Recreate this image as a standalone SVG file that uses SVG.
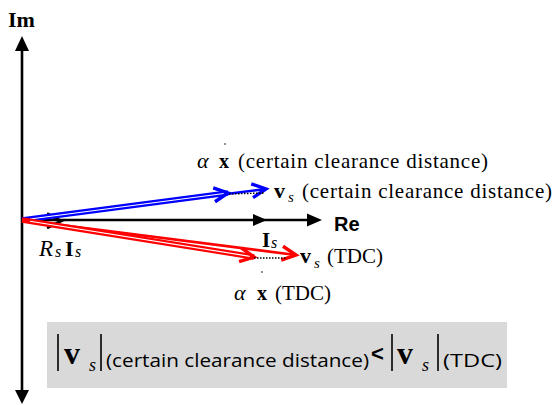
<svg xmlns="http://www.w3.org/2000/svg" width="555" height="405" viewBox="0 0 555 405">
  <style>
    text { fill: #000; }
    .serif { font-family: 'Liberation Serif', serif; }
    .sans { font-family: 'Liberation Sans', Arial, sans-serif; }
    .ui { font-family: 'Open Sans', 'Noto Sans', sans-serif; }
    .b { font-weight: bold; }
    .i { font-style: italic; }
    .axis { stroke: #000; stroke-width: 2.6; fill: none; }
    .dots { stroke: #000; stroke-width: 1.4; stroke-dasharray: 1.5 1.5; fill: none; }
    .bar { stroke: #000; stroke-width: 1.6; }
  </style>
  <defs>
    <marker id="chevBlue" markerUnits="userSpaceOnUse" markerWidth="20" markerHeight="20" refX="17" refY="10" orient="auto" overflow="visible">
      <path d="M3,3 L17,10 L3,17" fill="none" stroke="#0000ff" stroke-width="3.4" stroke-linejoin="miter"/>
    </marker>
    <marker id="chevRed" markerUnits="userSpaceOnUse" markerWidth="20" markerHeight="20" refX="17" refY="10" orient="auto" overflow="visible">
      <path d="M3,3 L17,10 L3,17" fill="none" stroke="#ff0000" stroke-width="3.4" stroke-linejoin="miter"/>
    </marker>
  </defs>

  <!-- complex-plane axes -->
  <g id="axes">
    <line class="axis" x1="22" y1="395" x2="22" y2="50"/>
    <path d="M15,51 L22,36 L29,51 Z" fill="#000"/>
    <path d="M15,390 L22,404 L29,390 Z" fill="#000"/>
    <line class="axis" x1="22" y1="220" x2="310" y2="220"/>
    <path d="M307,213.5 L322,220 L307,226.5 Z" fill="#000"/>
    <text class="serif b" x="8" y="27" font-size="22">Im</text>
    <text class="sans b" x="334" y="231" font-size="20">Re</text>
  </g>

  <!-- phasor connectors -->
  <g id="connectors">
    <!-- current phasor I_s along the real axis -->
    <path d="M253,214 L267,220 L253,226 Z" fill="#000"/>
    <!-- voltage drop R_s I_s -->
    <path d="M47,213.5 L61,221 L47,228" fill="none" stroke="#000" stroke-width="3"/>

    <!-- certain clearance distance: blue -->
    <line x1="22" y1="220" x2="266" y2="189" stroke="#0000ff" stroke-width="2.6" marker-end="url(#chevBlue)"/>
    <line x1="22" y1="220" x2="228" y2="193" stroke="#0000ff" stroke-width="5.4"/>
    <line x1="30" y1="219" x2="224" y2="193.5" stroke="#fff" stroke-width="1.1"/>
    <line x1="22" y1="220" x2="228" y2="193" stroke="none" marker-end="url(#chevBlue)"/>
    <line class="dots" x1="229" y1="194" x2="264" y2="193"/>

    <!-- TDC: red -->
    <line x1="22" y1="220" x2="296" y2="255" stroke="#ff0000" stroke-width="2.6" marker-end="url(#chevRed)"/>
    <line x1="22" y1="220" x2="254" y2="257" stroke="#ff0000" stroke-width="5.4"/>
    <line x1="30" y1="221.3" x2="250" y2="256.4" stroke="#fff" stroke-width="1.1"/>
    <line x1="22" y1="220" x2="254" y2="257" stroke="none" marker-end="url(#chevRed)"/>
    <line class="dots" x1="254" y1="258" x2="287" y2="258"/>
  </g>

  <!-- R_s I_s label -->
  <g id="label-RsIs">
    <text class="serif i" x="39" y="256" font-size="23">R</text>
    <text class="serif i" x="55" y="257" font-size="16">s</text>
    <text class="serif b" x="65" y="256" font-size="22">I</text>
    <text class="serif i" x="75" y="257" font-size="16">s</text>
  </g>

  <!-- I_s label -->
  <g id="label-Is">
    <text class="serif b" x="262" y="247" font-size="21">I</text>
    <text class="serif i" x="271" y="248" font-size="16">s</text>
  </g>

  <!-- alpha x, certain clearance distance -->
  <g id="label-ax-ccd">
    <circle cx="225" cy="144" r="0.8" fill="#000"/>
    <text class="serif i" x="197" y="168" font-size="22">α</text>
    <text class="serif b" x="219" y="168" font-size="20">x</text>
    <text x="238" y="168" style="font-family:'Liberation Serif',serif;font-size:21px" textLength="250" lengthAdjust="spacing">(certain clearance distance)</text>
  </g>

  <!-- v_s, certain clearance distance -->
  <g id="label-vs-ccd">
    <text class="serif b" x="274" y="198" font-size="22">v</text>
    <text class="serif i" x="288" y="202" font-size="15">s</text>
    <text x="302" y="198" style="font-family:'Liberation Serif',serif;font-size:21px" textLength="250" lengthAdjust="spacing">(certain clearance distance)</text>
  </g>

  <!-- v_s, TDC -->
  <g id="label-vs-tdc">
    <text class="serif b" x="300" y="263" font-size="22">v</text>
    <text class="serif i" x="314" y="268" font-size="15">s</text>
    <text x="327" y="263" style="font-family:'Liberation Serif',serif;font-size:21px">(TDC)</text>
  </g>

  <!-- alpha x, TDC -->
  <g id="label-ax-tdc">
    <circle cx="262" cy="272" r="0.8" fill="#000"/>
    <text class="serif i" x="234" y="300" font-size="22">α</text>
    <text class="serif b" x="257" y="300" font-size="20">x</text>
    <text x="275" y="300" style="font-family:'Liberation Serif',serif;font-size:21px">(TDC)</text>
  </g>

  <!-- magnitude comparison -->
  <g id="comparison">
    <rect x="47" y="322" width="460" height="66" fill="#d9d9d9"/>
    <line class="bar" x1="58" y1="334" x2="58" y2="371"/>
    <text class="serif b" x="64" y="364" font-size="32">v</text>
    <text class="serif i" x="89" y="371" font-size="18">s</text>
    <line class="bar" x1="101" y1="334" x2="101" y2="371"/>
    <text class="ui" x="106" y="367" font-size="19" textLength="263" lengthAdjust="spacingAndGlyphs">(certain clearance distance)</text>
    <text class="sans b" x="371" y="361" font-size="22">&lt;</text>
    <line class="bar" x1="392" y1="334" x2="392" y2="371"/>
    <text class="serif b" x="397" y="364" font-size="32">v</text>
    <text class="serif i" x="422" y="371" font-size="18">s</text>
    <line class="bar" x1="438" y1="334" x2="438" y2="371"/>
    <text class="ui" x="443" y="367" font-size="19" textLength="59" lengthAdjust="spacingAndGlyphs">(TDC)</text>
  </g>
</svg>
